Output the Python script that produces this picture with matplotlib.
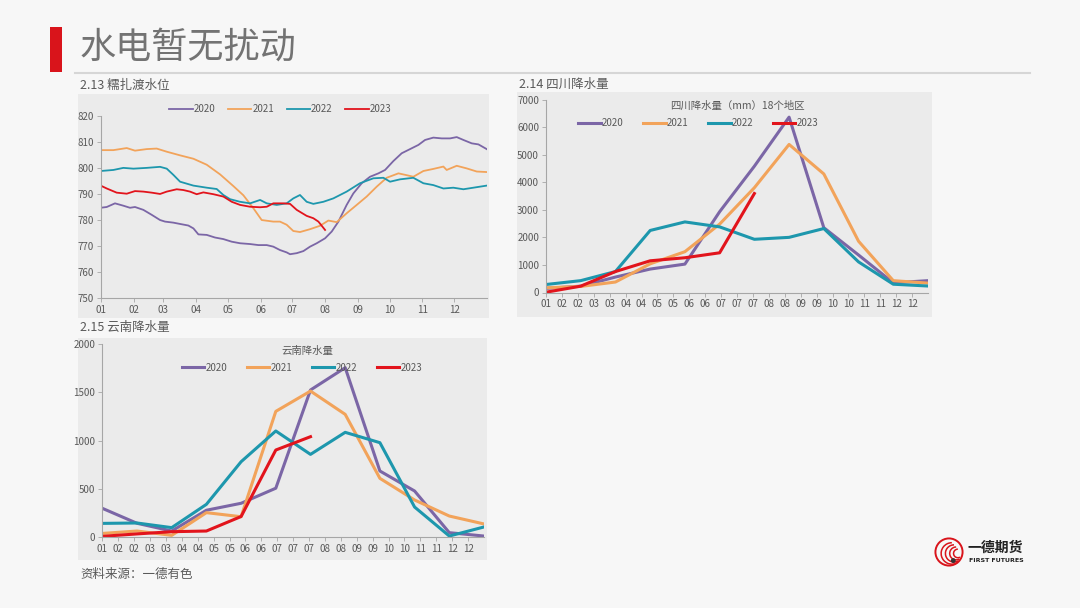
# 水电暂无扰动: 糯扎渡水位 / 四川降水量 / 云南降水量

import matplotlib
matplotlib.use("Agg")
import matplotlib.pyplot as plt
from matplotlib.patches import Rectangle, Circle, Arc

plt.rcParams["font.family"] = ["Noto Sans CJK SC", "DejaVu Sans"]

YEARS = ["2020", "2021", "2022", "2023"]
COLORS = ["#7b66a6", "#f2a35a", "#1d97ad", "#e2141c"]

# 2.13 糯扎渡水位 (day of year, m)
nzd_day_2020 = [0, 5.7, 13.5, 21.4, 27.7, 32.4, 40.3, 48.2, 56.1, 60.8, 68.7, 75, 82.8,
                87.6, 92.3, 100.2, 108, 115.9, 123.8, 131.7, 141.1, 149, 156.9, 163.1,
                169.4, 175.7, 178.9, 185.2, 191.5, 197.8, 204.1, 212, 218.3, 224.6,
                232.4, 238.7, 246.6, 254.5, 262.4, 268.7, 276.5, 284.4, 292.3, 300.2,
                306.5, 314.3, 322.2, 330.1, 336.4, 342.7, 350.6, 356.9, 364.7]
nzd_lvl_2020 = [784.7, 785, 786.4, 785.5, 784.7, 785, 783.9, 782, 780, 779.4, 779, 778.5,
                777.9, 776.8, 774.5, 774.3, 773.3, 772.7, 771.7, 771.1, 770.8, 770.4,
                770.4, 769.8, 768.5, 767.6, 766.9, 767.3, 768.1, 769.8, 771.1, 773,
                775.6, 779.4, 785.8, 790.2, 794.1, 796.6, 797.9, 799.2, 802.6, 805.6,
                807.2, 808.8, 810.7, 811.6, 811.3, 811.3, 811.8, 810.7, 809.4, 809, 807.2]

nzd_day_2021 = [0, 12, 24.6, 32.4, 43.5, 52.9, 62.4, 75, 87.6, 100.2, 112.8, 125.4, 134.8,
                144.3, 152.1, 163.1, 169.4, 175.7, 182, 188.3, 197.8, 207.2, 215.1, 223,
                232.4, 241.9, 251.3, 260.8, 270.2, 281.3, 289.1, 295.4, 304.9, 314.3,
                323.8, 326.9, 336.4, 345.8, 355.3, 364.7]
nzd_lvl_2021 = [806.8, 806.8, 807.6, 806.6, 807.2, 807.4, 806.2, 804.8, 803.5, 801.2,
                797.5, 793, 789.5, 784.5, 780, 779.4, 779.4, 778.2, 775.8, 775.4, 776.5,
                777.8, 779.8, 779.2, 782.6, 785.8, 789, 792.8, 796.2, 797.9, 797.2, 796.6,
                798.8, 799.6, 800.5, 799.2, 800.8, 799.8, 798.6, 798.4]

nzd_day_2022 = [0, 12, 21.4, 30.9, 43.5, 56.1, 62.4, 68.7, 75, 87.6, 100.2, 109.6, 115.9,
                122.2, 131.7, 141.1, 150.6, 156.9, 166.3, 175.7, 182, 188.3, 194.6, 200.9,
                210.4, 219.8, 232.4, 245, 257.6, 267.1, 273.4, 282.8, 295.4, 304.9, 314.3,
                323.8, 333.2, 342.7, 352.1, 364.7]
nzd_lvl_2022 = [798.8, 799.2, 800, 799.7, 800, 800.4, 799.7, 797.3, 794.7, 793.2, 792.4,
                791.9, 789.6, 788, 787, 786.4, 787.7, 786.4, 785.8, 786.4, 788.3, 789.6,
                787, 786.2, 787, 788.3, 790.9, 794.1, 796, 796.2, 794.7, 795.6, 796.2,
                794.1, 793.4, 792.1, 792.4, 791.8, 792.4, 793.2]

nzd_day_2023 = [0, 5.7, 15.1, 24.6, 32.4, 40.3, 48.2, 56.1, 62.4, 71.8, 78.1, 84.4, 90.7,
                97, 106.5, 115.9, 123.8, 131.7, 141.1, 150.6, 156.9, 163.1, 172.6, 178.9,
                185.2, 194.6, 200.9, 205.7, 212]
nzd_lvl_2023 = [793.2, 792.1, 790.5, 790.1, 791.1, 790.9, 790.5, 790, 790.9, 791.8, 791.5,
                790.9, 789.9, 790.6, 789.9, 789, 787, 785.8, 785.1, 784.9, 785.1, 786.4,
                786.4, 786.2, 783.9, 781.6, 780.7, 779.4, 776.2]

MONTHS = ["01", "02", "03", "04", "05", "06", "07", "08", "09", "10", "11", "12"]
MONTH_START = [0, 31, 59, 90, 120, 151, 181, 212, 243, 273, 304, 334]

# 2.14 / 2.15 monthly rainfall, date axis labelled every half month
HALF_MONTH_LABELS = ["01", "02", "02", "03", "03", "04", "04", "05", "05", "06", "06",
                     "07", "07", "07", "08", "08", "09", "09", "10", "10", "11", "11",
                     "12", "12"]

sc_2020 = [150, 230, 560, 850, 1030, 2930, 4580, 6360, 2350, 1360, 350, 430]
sc_2021 = [170, 220, 380, 1040, 1480, 2480, 3800, 5370, 4300, 1860, 430, 340]
sc_2022 = [290, 430, 760, 2250, 2560, 2380, 1930, 2000, 2320, 1110, 300, 235]
sc_2023 = [10, 230, 760, 1150, 1260, 1440, 3590]

yn_2020 = [300, 145, 65, 280, 352, 508, 1524, 1755, 686, 479, 48, 13]
yn_2021 = [40, 65, 20, 255, 213, 1303, 1513, 1272, 610, 386, 220, 138]
yn_2022 = [144, 148, 100, 341, 782, 1100, 858, 1086, 979, 313, 13, 107]
yn_2023 = [10, 35, 58, 65, 215, 903, 1041]

W, H = 1080, 608
TEXT = "#595959"
AXIS = "#a6a6a6"
PANEL = "#ebebeb"


def box(left, top, right, bottom):
    return [left / W, 1 - bottom / H, (right - left) / W, (bottom - top) / H]


def main():
    fig = plt.figure(figsize=(W / 100, H / 100), dpi=100, facecolor="#f7f7f7")
    draw_frame(fig)

    ax1 = fig.add_axes(box(100.7, 115.7, 487, 298.3))
    plot_level(ax1)

    ax2 = fig.add_axes(box(546, 99.5, 928, 292.5))
    plot_rain(ax2, [sc_2020, sc_2021, sc_2022, sc_2023], 7000, 1000,
              "四川降水量（mm）18个地区", 0.5, 0.399)

    ax3 = fig.add_axes(box(102.3, 344, 484, 537.3))
    plot_rain(ax3, [yn_2020, yn_2021, yn_2022, yn_2023], 2000, 500,
              "云南降水量", 0.536, 0.524)

    draw_logo(fig)
    fig.savefig("out.png", dpi=100, facecolor=fig.get_facecolor())


def panel(fig, left, top, right, bottom):
    x, y, w, h = box(left, top, right, bottom)
    fig.add_artist(Rectangle((x, y), w, h, transform=fig.transFigure,
                             facecolor=PANEL, edgecolor="none", zorder=-1))


def draw_frame(fig):
    fig.add_artist(Rectangle((50 / W, 1 - 72 / H), 12 / W, 45 / H,
                             transform=fig.transFigure, facecolor="#d9141b",
                             edgecolor="none"))
    fig.text(80 / W, 1 - 48 / H, "水电暂无扰动", fontsize=26, fontweight="light",
             color="#737373", va="center", ha="left")
    fig.add_artist(plt.Line2D([75 / W, 1030 / W], [1 - 73 / H, 1 - 73 / H],
                              transform=fig.transFigure, color="#d6d6d6", lw=1.5))

    panel(fig, 78, 94, 489, 318)
    panel(fig, 517, 92, 932, 317)
    panel(fig, 78, 338, 487, 560)

    fig.text(80 / W, 1 - 85 / H, "2.13 糯扎渡水位", fontsize=9, color=TEXT, va="center")
    fig.text(519 / W, 1 - 84 / H, "2.14 四川降水量", fontsize=9, color=TEXT, va="center")
    fig.text(80 / W, 1 - 327 / H, "2.15 云南降水量", fontsize=9, color=TEXT, va="center")
    fig.text(80 / W, 1 - 574 / H, "资料来源：一德有色", fontsize=9, color=TEXT,
             va="center")


def style_axis(ax):
    ax.set_facecolor("none")
    for side in ["top", "right"]:
        ax.spines[side].set_visible(False)
    for side in ["left", "bottom"]:
        ax.spines[side].set_color(AXIS)
        ax.spines[side].set_linewidth(0.8)
    ax.tick_params(labelsize=7, labelcolor=TEXT, color=AXIS, length=3, width=0.6,
                   pad=2)


def plot_level(ax):
    days = [nzd_day_2020, nzd_day_2021, nzd_day_2022, nzd_day_2023]
    levels = [nzd_lvl_2020, nzd_lvl_2021, nzd_lvl_2022, nzd_lvl_2023]
    for d, v, c, y in zip(days, levels, COLORS, YEARS):
        ax.plot(d, v, color=c, lw=1.3, label=y)

    style_axis(ax)
    ax.set_xlim(0, 365)
    ax.set_ylim(750, 820)
    ax.set_xticks(MONTH_START, MONTHS)
    ax.set_yticks(range(750, 821, 10))
    ax.legend(loc="center", bbox_to_anchor=(0.465, 1.037), ncol=4, frameon=False,
              fontsize=7, handlelength=2.4, handletextpad=0.1, columnspacing=1.3,
              labelcolor=TEXT)


def plot_rain(ax, series, ymax, ystep, title, title_x, legend_x):
    for v, c, y in zip(series, COLORS, YEARS):
        ax.plot(range(len(v)), v, color=c, lw=2.2, label=y)

    style_axis(ax)
    ax.set_xlim(0, 11)
    ax.set_ylim(0, ymax)
    ax.set_xticks([i * 11 / 24 for i in range(24)], HALF_MONTH_LABELS)
    ax.set_yticks(range(0, ymax + 1, ystep))
    ax.text(title_x, 0.966, title, transform=ax.transAxes, ha="center", va="center",
            fontsize=7.5, color=TEXT)
    ax.legend(loc="center", bbox_to_anchor=(legend_x, 0.878), ncol=4, frameon=False,
              fontsize=7, handlelength=2.3, handletextpad=0.15, columnspacing=2.0,
              labelcolor=TEXT)


def draw_logo(fig):
    lax = fig.add_axes(box(934, 537, 964, 567))
    lax.set_xlim(-1.05, 1.05)
    lax.set_ylim(-1.05, 1.05)
    lax.set_aspect("equal")
    lax.axis("off")
    lax.add_patch(Circle((0, 0), 0.95, facecolor="none", edgecolor="#d9141b", lw=1.4))
    for r, dx in [(0.75, 0.2), (0.6, 0.35), (0.45, 0.5), (0.3, 0.62)]:
        lax.add_patch(Arc((dx, -0.1), 2 * r, 2 * r, theta1=90, theta2=300,
                          color="#d9141b", lw=1.1))
    lax.add_patch(Circle((0.3, -0.6), 0.12, color="#333333"))

    fig.text(967 / W, 1 - 548 / H, "一德期货", fontsize=10, fontweight="bold",
             color="#222222", va="center")
    fig.text(969 / W, 1 - 560 / H, "FIRST FUTURES", fontsize=4.5, fontweight="bold",
             color="#222222", va="center", family="DejaVu Sans")


if __name__ == "__main__":
    main()
